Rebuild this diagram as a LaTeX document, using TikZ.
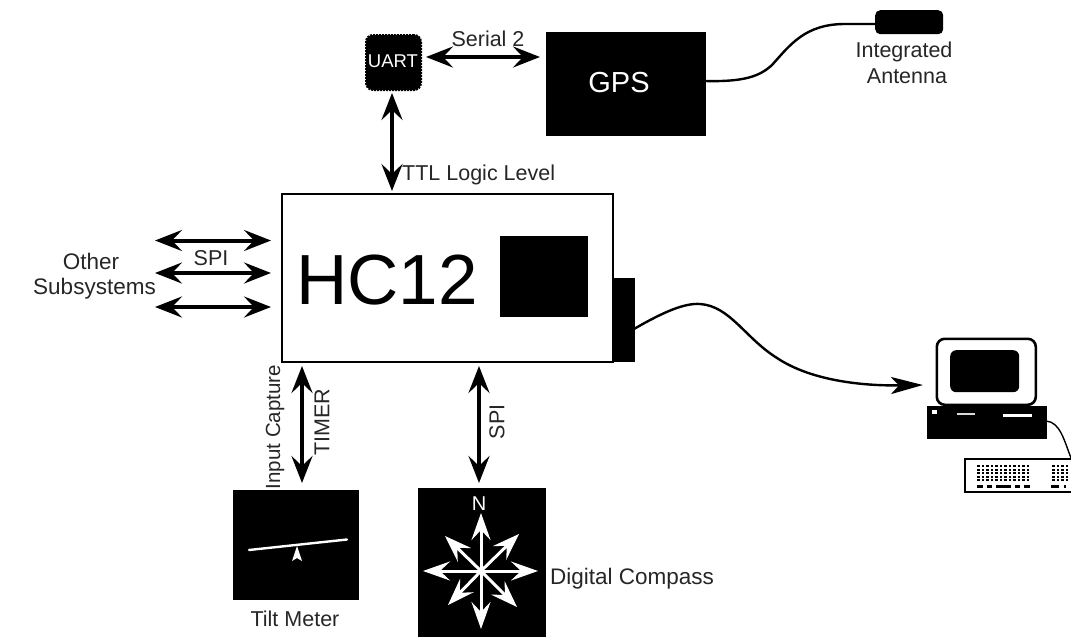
\documentclass[tikz,border=0pt]{standalone}
\usepackage{fontspec}
\setmainfont{Liberation Sans}
\usetikzlibrary{arrows.meta}
\tikzset{
  blackbox/.style={fill=black,draw=black,inner sep=0pt,anchor=north west,line width=0.5pt},
  lbl/.style={inner sep=0pt,font=\fontsize{21.5}{26}\selectfont,text=black!85},
  whitetext/.style={inner sep=0pt,text=white},
  dbl/.style={line width=4pt,{Stealth[length=27pt,width=21pt,inset=10pt]}-{Stealth[length=27pt,width=21pt,inset=10pt]}},
  wire/.style={line width=2.4pt},
  compass/.style={draw=white,line width=3pt,-{Stealth[length=27pt,width=19pt,inset=10pt]}},
}
\begin{document}
\begin{tikzpicture}[x=1pt,y=-1pt]
\useasboundingbox (0,0) rectangle (1071,637);
% main blocks
\node[draw=black,line width=2.8pt,inner sep=0pt,minimum width=331pt,minimum height=168pt,anchor=north west] (hc) at (280.5,192.5) {};
\node[inner sep=0pt,font=\fontsize{71}{71}\selectfont,anchor=center] (hclabel) at (387,280) {HC12};
\node[blackbox,minimum width=87pt,minimum height=80pt] (chip) at (500,236) {};
\node[blackbox,minimum width=22pt,minimum height=83pt] (port) at (612,278) {};
\node[blackbox,minimum width=159pt,minimum height=103pt] (gps) at (546,32) {};
\node[whitetext,font=\fontsize{29}{29}\selectfont] (gpslabel) at (619,83) {GPS};
\node[fill=black,draw=black,line width=2pt,densely dotted,rounded corners=7pt,inner sep=0pt,minimum width=55pt,minimum height=55pt,anchor=north west] (uart) at (365,34) {};
\node[whitetext,font=\fontsize{18.5}{19}\selectfont] (uartlabel) at (393,61) {UART};
\node[fill=black,rounded corners=5pt,inner sep=0pt,minimum width=68pt,minimum height=24pt,anchor=north west] (ant) at (875,10) {};
\node[blackbox,minimum width=125pt,minimum height=109pt] (tilt) at (233,490) {};
\node[blackbox,minimum width=127pt,minimum height=150pt] (comp) at (418,488) {};
% computer
\node[draw=black,line width=2.6pt,rounded corners=8pt,inner sep=0pt,minimum width=99pt,minimum height=66pt,anchor=north west,fill=white] (mon) at (935.5,337.5) {};
\node[fill=black,rounded corners=6pt,inner sep=0pt,minimum width=69pt,minimum height=42pt,anchor=north west] (screen) at (950,350) {};
\node[blackbox,minimum width=119pt,minimum height=32pt] (base) at (927,406) {};
\node[fill=white,inner sep=0pt,minimum width=5pt,minimum height=4pt,anchor=north west] (led) at (932,410) {};
\node[fill=black!15,inner sep=0pt,minimum width=18pt,minimum height=1.5pt,anchor=north west] (slota) at (957,413) {};
\node[fill=white,inner sep=0pt,minimum width=29pt,minimum height=3pt,anchor=north west] (slotb) at (1003,414) {};
\node[draw=black,line width=2.2pt,inner sep=0pt,minimum width=112pt,minimum height=33pt,anchor=north west] (kbd) at (964,458) {};
\foreach \x in {977,981.5,...,1030}
  \foreach \y in {465,468.5,...,480}
    \fill[black] (\x,\y) rectangle +(2.8,2.4);
\foreach \x in {1052,1056.5,...,1068}
  \foreach \y in {465,468.5,...,480}
    \fill[black] (\x,\y) rectangle +(2.8,2.4);
\foreach \a/\b in {977/983,987/992,996/1011,1015/1020,1024/1030,1051/1059,1064/1066}
  \fill[black] (\a,485) rectangle (\b,487.5);
% free ends
\coordinate (s1) at (155,240.5);
\coordinate (s2) at (155,273);
\coordinate (s3) at (155,307);
\coordinate (h1) at (271,240.5);
\coordinate (h2) at (271,273);
\coordinate (h3) at (271,307);
\coordinate (uarthc) at (392,191);
\coordinate (uartb) at (392,93);
\coordinate (tiltt) at (302,366);
\coordinate (tiltb) at (302,483);
\coordinate (compt) at (479,366);
\coordinate (compb) at (479,483);
\coordinate (uartr) at (426,57);
\coordinate (gpsl) at (540,57);
\coordinate (pca) at (634,329);
\coordinate (pcb) at (923,385);
\coordinate (gpsr) at (705,81);
\coordinate (anta) at (876,24);
\coordinate (basr) at (1046,421);
\coordinate (kbdt) at (1071,458);
% connectors
\draw[dbl] (s1) -- (h1);
\draw[dbl] (s2) -- (h2);
\draw[dbl] (s3) -- (h3);
\draw[dbl] (uartb) -- (uarthc);
\draw[dbl] (uartr) -- (gpsl);
\draw[dbl] (tiltt) -- (tiltb);
\draw[dbl] (compt) -- (compb);
\draw[wire] (gpsr) .. controls (745,82) and (760,76) .. (772,65) .. controls (790,45) and (805,24) .. (845,24) -- (anta);
\draw[wire,-{Stealth[length=32pt,width=17pt,inset=8pt]}] (pca) .. controls (665,311) and (685,303) .. (700,304) .. controls (730,306) and (745,338) .. (777,358) .. controls (810,380) and (860,386) .. (pcb);
\draw[line width=1.4pt] (basr) .. controls (1060,422) and (1064,440) .. (kbdt);
% compass rose
\coordinate (cc) at (481,571);
\draw[compass] (cc) -- (481,513);
\draw[compass] (cc) -- (481,629);
\draw[compass] (cc) -- (538,571);
\draw[compass] (cc) -- (423,571);
\draw[compass] (cc) -- (519,534);
\draw[compass] (cc) -- (445,536);
\draw[compass] (cc) -- (448,605);
\draw[compass] (cc) -- (517,607);
\node[whitetext,font=\fontsize{20}{20}\selectfont] (north) at (479,504) {N};
% tilt meter
\draw[white,line width=2.4pt,line cap=round] (249,550) -- (347,539.5);
\fill[white] (297,546) -- (302,561) -- (297,558) -- (292,561) -- cycle;
% labels
\node[lbl] (l1) at (488,39) {Serial 2};
\node[lbl,anchor=west] (l2) at (402,175) {TTL Logic Level};
\node[lbl,font=\fontsize{22.5}{26}\selectfont] (l3a) at (91,261) {Other};
\node[lbl,font=\fontsize{22.5}{26}\selectfont] (l3b) at (94.5,289) {Subsystems};
\node[lbl] (l4) at (211,258) {SPI};
\node[lbl,rotate=90,font=\fontsize{20.5}{24}\selectfont] (l5) at (275,427) {Input Capture};
\node[lbl,rotate=90] (l6) at (322,422) {TIMER};
\node[lbl,rotate=90] (l7) at (497,422) {SPI};
\node[lbl] (l8) at (295,619) {Tilt Meter};
\node[lbl,anchor=west,font=\fontsize{22.5}{26}\selectfont] (l9) at (550,579) {Digital Compass};
\node[lbl] (l10a) at (904,52) {Integrated};
\node[lbl] (l10b) at (907,76) {Antenna};
\end{tikzpicture}
\end{document}
